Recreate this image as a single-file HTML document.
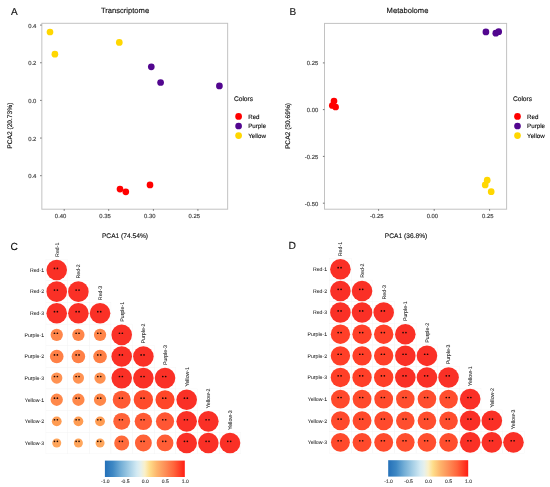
<!DOCTYPE html>
<html><head><meta charset="utf-8"><style>
html,body{margin:0;padding:0;background:#fff;width:550px;height:487px;overflow:hidden}
svg{display:block;will-change:transform;text-rendering:geometricPrecision;font-family:"Liberation Sans",sans-serif}
</style></head><body>
<svg width="550" height="487" viewBox="0 0 550 487">
<defs><linearGradient id="cbC" x1="0" x2="1" y1="0" y2="0"><stop offset="0" stop-color="#2470B8"/><stop offset="0.1" stop-color="#3E88C4"/><stop offset="0.2" stop-color="#73AED6"/><stop offset="0.3" stop-color="#A3CDE5"/><stop offset="0.4" stop-color="#D3EAF3"/><stop offset="0.45" stop-color="#E6F0EC"/><stop offset="0.5" stop-color="#FAF0C8"/><stop offset="0.56" stop-color="#FEDD8A"/><stop offset="0.65" stop-color="#FDB56C"/><stop offset="0.75" stop-color="#FD9058"/><stop offset="0.86" stop-color="#FF663C"/><stop offset="1" stop-color="#FF1E14"/></linearGradient><linearGradient id="cbD" x1="0" x2="1" y1="0" y2="0"><stop offset="0" stop-color="#2470B8"/><stop offset="0.1" stop-color="#3E88C4"/><stop offset="0.2" stop-color="#73AED6"/><stop offset="0.3" stop-color="#A3CDE5"/><stop offset="0.4" stop-color="#D3EAF3"/><stop offset="0.45" stop-color="#E6F0EC"/><stop offset="0.5" stop-color="#FAF0C8"/><stop offset="0.56" stop-color="#FEDD8A"/><stop offset="0.65" stop-color="#FDB56C"/><stop offset="0.75" stop-color="#FD9058"/><stop offset="0.86" stop-color="#FF663C"/><stop offset="1" stop-color="#FF1E14"/></linearGradient></defs>
<text x="10.90" y="14.50" font-size="10" text-anchor="start" fill="#111" stroke="#111" stroke-width="0.14" >A</text>
<text x="125.00" y="12.80" font-size="7.6" text-anchor="middle" fill="#111111" stroke="#111111" stroke-width="0.14" >Transcriptome</text>
<rect x="41.85" y="23.3" width="185.8" height="185.9" fill="none" stroke="#C2C2C2" stroke-width="1.0"/>
<line x1="40.1" y1="25.1" x2="41.6" y2="25.1" stroke="#3A3A3A" stroke-width="0.7"/>
<text x="36.40" y="27.60" font-size="5.9" text-anchor="end" fill="#3A3A3A" stroke="#3A3A3A" stroke-width="0.14" >0.4</text>
<line x1="40.1" y1="62.75" x2="41.6" y2="62.75" stroke="#3A3A3A" stroke-width="0.7"/>
<text x="36.40" y="65.25" font-size="5.9" text-anchor="end" fill="#3A3A3A" stroke="#3A3A3A" stroke-width="0.14" >0.2</text>
<line x1="40.1" y1="100.4" x2="41.6" y2="100.4" stroke="#3A3A3A" stroke-width="0.7"/>
<text x="36.40" y="102.90" font-size="5.9" text-anchor="end" fill="#3A3A3A" stroke="#3A3A3A" stroke-width="0.14" >0.0</text>
<line x1="40.1" y1="138.05" x2="41.6" y2="138.05" stroke="#3A3A3A" stroke-width="0.7"/>
<text x="36.40" y="140.55" font-size="5.9" text-anchor="end" fill="#3A3A3A" stroke="#3A3A3A" stroke-width="0.14" >0.2</text>
<line x1="40.1" y1="175.7" x2="41.6" y2="175.7" stroke="#3A3A3A" stroke-width="0.7"/>
<text x="36.40" y="178.20" font-size="5.9" text-anchor="end" fill="#3A3A3A" stroke="#3A3A3A" stroke-width="0.14" >0.4</text>
<line x1="64.2" y1="209.2" x2="64.2" y2="210.8" stroke="#3A3A3A" stroke-width="0.7"/>
<text x="60.60" y="217.80" font-size="5.9" text-anchor="middle" fill="#3A3A3A" stroke="#3A3A3A" stroke-width="0.14" >0.40</text>
<line x1="108.7" y1="209.2" x2="108.7" y2="210.8" stroke="#3A3A3A" stroke-width="0.7"/>
<text x="105.10" y="217.80" font-size="5.9" text-anchor="middle" fill="#3A3A3A" stroke="#3A3A3A" stroke-width="0.14" >0.35</text>
<line x1="153.4" y1="209.2" x2="153.4" y2="210.8" stroke="#3A3A3A" stroke-width="0.7"/>
<text x="149.80" y="217.80" font-size="5.9" text-anchor="middle" fill="#3A3A3A" stroke="#3A3A3A" stroke-width="0.14" >0.30</text>
<line x1="197.9" y1="209.2" x2="197.9" y2="210.8" stroke="#3A3A3A" stroke-width="0.7"/>
<text x="194.30" y="217.80" font-size="5.9" text-anchor="middle" fill="#3A3A3A" stroke="#3A3A3A" stroke-width="0.14" >0.25</text>
<text x="125.00" y="237.60" font-size="6.65" text-anchor="middle" fill="#111111" stroke="#111111" stroke-width="0.14" >PCA1 (74.54%)</text>
<text x="0" y="0" font-size="6.65" text-anchor="middle" fill="#111111" stroke="#111111" stroke-width="0.14" transform="translate(12.1,125.7) rotate(-90)">PCA2 (20.73%)</text>
<text x="233.90" y="100.90" font-size="6.65" text-anchor="start" fill="#111111" stroke="#111111" stroke-width="0.14" >Colors</text>
<circle cx="238.6" cy="116.4" r="3.35" fill="#FF0000"/>
<text x="248.20" y="118.60" font-size="6.2" text-anchor="start" fill="#111111" stroke="#111111" stroke-width="0.14" >Red</text>
<circle cx="238.6" cy="126.0" r="3.35" fill="#52068F"/>
<text x="248.20" y="128.20" font-size="6.2" text-anchor="start" fill="#111111" stroke="#111111" stroke-width="0.14" >Purple</text>
<circle cx="238.6" cy="135.6" r="3.35" fill="#FFD700"/>
<text x="248.20" y="137.80" font-size="6.2" text-anchor="start" fill="#111111" stroke="#111111" stroke-width="0.14" >Yellow</text>
<circle cx="50" cy="32" r="3.35" fill="#FFD700"/>
<circle cx="54.9" cy="54.2" r="3.35" fill="#FFD700"/>
<circle cx="119.3" cy="42.4" r="3.35" fill="#FFD700"/>
<circle cx="151.3" cy="66.8" r="3.35" fill="#52068F"/>
<circle cx="160.6" cy="82.5" r="3.35" fill="#52068F"/>
<circle cx="219.4" cy="85.9" r="3.35" fill="#52068F"/>
<circle cx="120" cy="189.1" r="3.35" fill="#FF0000"/>
<circle cx="125.8" cy="191.8" r="3.35" fill="#FF0000"/>
<circle cx="150" cy="184.9" r="3.35" fill="#FF0000"/>
<text x="289.50" y="14.50" font-size="10" text-anchor="start" fill="#111" stroke="#111" stroke-width="0.14" >B</text>
<text x="407.50" y="12.80" font-size="7.6" text-anchor="middle" fill="#111111" stroke="#111111" stroke-width="0.14" >Metabolome</text>
<rect x="324.5" y="23.4" width="182.1" height="185.8" fill="none" stroke="#C2C2C2" stroke-width="1.0"/>
<line x1="322.9" y1="62.9" x2="324.4" y2="62.9" stroke="#3A3A3A" stroke-width="0.7"/>
<text x="318.30" y="65.40" font-size="5.9" text-anchor="end" fill="#3A3A3A" stroke="#3A3A3A" stroke-width="0.14" >0.25</text>
<line x1="322.9" y1="109.6" x2="324.4" y2="109.6" stroke="#3A3A3A" stroke-width="0.7"/>
<text x="318.30" y="112.10" font-size="5.9" text-anchor="end" fill="#3A3A3A" stroke="#3A3A3A" stroke-width="0.14" >0.00</text>
<line x1="322.9" y1="156.4" x2="324.4" y2="156.4" stroke="#3A3A3A" stroke-width="0.7"/>
<text x="318.30" y="158.90" font-size="5.9" text-anchor="end" fill="#3A3A3A" stroke="#3A3A3A" stroke-width="0.14" >-0.25</text>
<line x1="322.9" y1="203.2" x2="324.4" y2="203.2" stroke="#3A3A3A" stroke-width="0.7"/>
<text x="318.30" y="205.70" font-size="5.9" text-anchor="end" fill="#3A3A3A" stroke="#3A3A3A" stroke-width="0.14" >-0.50</text>
<line x1="378.6" y1="209.2" x2="378.6" y2="210.8" stroke="#3A3A3A" stroke-width="0.7"/>
<text x="376.80" y="217.80" font-size="5.9" text-anchor="middle" fill="#3A3A3A" stroke="#3A3A3A" stroke-width="0.14" >-0.25</text>
<line x1="434.2" y1="209.2" x2="434.2" y2="210.8" stroke="#3A3A3A" stroke-width="0.7"/>
<text x="432.40" y="217.80" font-size="5.9" text-anchor="middle" fill="#3A3A3A" stroke="#3A3A3A" stroke-width="0.14" >0.00</text>
<line x1="489.6" y1="209.2" x2="489.6" y2="210.8" stroke="#3A3A3A" stroke-width="0.7"/>
<text x="487.80" y="217.80" font-size="5.9" text-anchor="middle" fill="#3A3A3A" stroke="#3A3A3A" stroke-width="0.14" >0.25</text>
<text x="406.10" y="237.60" font-size="6.65" text-anchor="middle" fill="#111111" stroke="#111111" stroke-width="0.14" >PCA1 (36.8%)</text>
<text x="0" y="0" font-size="6.65" text-anchor="middle" fill="#111111" stroke="#111111" stroke-width="0.14" transform="translate(289.6,126) rotate(-90)">PCA2 (30.69%)</text>
<text x="512.90" y="100.90" font-size="6.65" text-anchor="start" fill="#111111" stroke="#111111" stroke-width="0.14" >Colors</text>
<circle cx="517.5" cy="116.4" r="3.35" fill="#FF0000"/>
<text x="527.10" y="118.60" font-size="6.2" text-anchor="start" fill="#111111" stroke="#111111" stroke-width="0.14" >Red</text>
<circle cx="517.5" cy="126.0" r="3.35" fill="#52068F"/>
<text x="527.10" y="128.20" font-size="6.2" text-anchor="start" fill="#111111" stroke="#111111" stroke-width="0.14" >Purple</text>
<circle cx="517.5" cy="135.6" r="3.35" fill="#FFD700"/>
<text x="527.10" y="137.80" font-size="6.2" text-anchor="start" fill="#111111" stroke="#111111" stroke-width="0.14" >Yellow</text>
<circle cx="334" cy="101" r="3.35" fill="#FF0000"/>
<circle cx="332.3" cy="105.5" r="3.35" fill="#FF0000"/>
<circle cx="335.6" cy="107" r="3.35" fill="#FF0000"/>
<circle cx="485.9" cy="31.9" r="3.35" fill="#52068F"/>
<circle cx="495.8" cy="33.2" r="3.35" fill="#52068F"/>
<circle cx="498.7" cy="31.7" r="3.35" fill="#52068F"/>
<circle cx="487.2" cy="180.2" r="3.35" fill="#FFD700"/>
<circle cx="485.2" cy="184.9" r="3.35" fill="#FFD700"/>
<circle cx="491.2" cy="191.7" r="3.35" fill="#FFD700"/>
<text x="10.60" y="250.40" font-size="10.3" text-anchor="start" fill="#111" stroke="#111" stroke-width="0.14" >C</text>
<rect x="45.90" y="259.20" width="21.66" height="21.62" fill="none" stroke="#F5F5F5" stroke-width="0.45"/>
<rect x="45.90" y="280.82" width="21.66" height="21.62" fill="none" stroke="#F5F5F5" stroke-width="0.45"/>
<rect x="67.56" y="280.82" width="21.66" height="21.62" fill="none" stroke="#F5F5F5" stroke-width="0.45"/>
<rect x="45.90" y="302.44" width="21.66" height="21.62" fill="none" stroke="#F5F5F5" stroke-width="0.45"/>
<rect x="67.56" y="302.44" width="21.66" height="21.62" fill="none" stroke="#F5F5F5" stroke-width="0.45"/>
<rect x="89.22" y="302.44" width="21.66" height="21.62" fill="none" stroke="#F5F5F5" stroke-width="0.45"/>
<rect x="45.90" y="324.06" width="21.66" height="21.62" fill="none" stroke="#F5F5F5" stroke-width="0.45"/>
<rect x="67.56" y="324.06" width="21.66" height="21.62" fill="none" stroke="#F5F5F5" stroke-width="0.45"/>
<rect x="89.22" y="324.06" width="21.66" height="21.62" fill="none" stroke="#F5F5F5" stroke-width="0.45"/>
<rect x="110.88" y="324.06" width="21.66" height="21.62" fill="none" stroke="#F5F5F5" stroke-width="0.45"/>
<rect x="45.90" y="345.68" width="21.66" height="21.62" fill="none" stroke="#F5F5F5" stroke-width="0.45"/>
<rect x="67.56" y="345.68" width="21.66" height="21.62" fill="none" stroke="#F5F5F5" stroke-width="0.45"/>
<rect x="89.22" y="345.68" width="21.66" height="21.62" fill="none" stroke="#F5F5F5" stroke-width="0.45"/>
<rect x="110.88" y="345.68" width="21.66" height="21.62" fill="none" stroke="#F5F5F5" stroke-width="0.45"/>
<rect x="132.54" y="345.68" width="21.66" height="21.62" fill="none" stroke="#F5F5F5" stroke-width="0.45"/>
<rect x="45.90" y="367.30" width="21.66" height="21.62" fill="none" stroke="#F5F5F5" stroke-width="0.45"/>
<rect x="67.56" y="367.30" width="21.66" height="21.62" fill="none" stroke="#F5F5F5" stroke-width="0.45"/>
<rect x="89.22" y="367.30" width="21.66" height="21.62" fill="none" stroke="#F5F5F5" stroke-width="0.45"/>
<rect x="110.88" y="367.30" width="21.66" height="21.62" fill="none" stroke="#F5F5F5" stroke-width="0.45"/>
<rect x="132.54" y="367.30" width="21.66" height="21.62" fill="none" stroke="#F5F5F5" stroke-width="0.45"/>
<rect x="154.20" y="367.30" width="21.66" height="21.62" fill="none" stroke="#F5F5F5" stroke-width="0.45"/>
<rect x="45.90" y="388.92" width="21.66" height="21.62" fill="none" stroke="#F5F5F5" stroke-width="0.45"/>
<rect x="67.56" y="388.92" width="21.66" height="21.62" fill="none" stroke="#F5F5F5" stroke-width="0.45"/>
<rect x="89.22" y="388.92" width="21.66" height="21.62" fill="none" stroke="#F5F5F5" stroke-width="0.45"/>
<rect x="110.88" y="388.92" width="21.66" height="21.62" fill="none" stroke="#F5F5F5" stroke-width="0.45"/>
<rect x="132.54" y="388.92" width="21.66" height="21.62" fill="none" stroke="#F5F5F5" stroke-width="0.45"/>
<rect x="154.20" y="388.92" width="21.66" height="21.62" fill="none" stroke="#F5F5F5" stroke-width="0.45"/>
<rect x="175.86" y="388.92" width="21.66" height="21.62" fill="none" stroke="#F5F5F5" stroke-width="0.45"/>
<rect x="45.90" y="410.54" width="21.66" height="21.62" fill="none" stroke="#F5F5F5" stroke-width="0.45"/>
<rect x="67.56" y="410.54" width="21.66" height="21.62" fill="none" stroke="#F5F5F5" stroke-width="0.45"/>
<rect x="89.22" y="410.54" width="21.66" height="21.62" fill="none" stroke="#F5F5F5" stroke-width="0.45"/>
<rect x="110.88" y="410.54" width="21.66" height="21.62" fill="none" stroke="#F5F5F5" stroke-width="0.45"/>
<rect x="132.54" y="410.54" width="21.66" height="21.62" fill="none" stroke="#F5F5F5" stroke-width="0.45"/>
<rect x="154.20" y="410.54" width="21.66" height="21.62" fill="none" stroke="#F5F5F5" stroke-width="0.45"/>
<rect x="175.86" y="410.54" width="21.66" height="21.62" fill="none" stroke="#F5F5F5" stroke-width="0.45"/>
<rect x="197.52" y="410.54" width="21.66" height="21.62" fill="none" stroke="#F5F5F5" stroke-width="0.45"/>
<rect x="45.90" y="432.16" width="21.66" height="21.62" fill="none" stroke="#F5F5F5" stroke-width="0.45"/>
<rect x="67.56" y="432.16" width="21.66" height="21.62" fill="none" stroke="#F5F5F5" stroke-width="0.45"/>
<rect x="89.22" y="432.16" width="21.66" height="21.62" fill="none" stroke="#F5F5F5" stroke-width="0.45"/>
<rect x="110.88" y="432.16" width="21.66" height="21.62" fill="none" stroke="#F5F5F5" stroke-width="0.45"/>
<rect x="132.54" y="432.16" width="21.66" height="21.62" fill="none" stroke="#F5F5F5" stroke-width="0.45"/>
<rect x="154.20" y="432.16" width="21.66" height="21.62" fill="none" stroke="#F5F5F5" stroke-width="0.45"/>
<rect x="175.86" y="432.16" width="21.66" height="21.62" fill="none" stroke="#F5F5F5" stroke-width="0.45"/>
<rect x="197.52" y="432.16" width="21.66" height="21.62" fill="none" stroke="#F5F5F5" stroke-width="0.45"/>
<rect x="219.18" y="432.16" width="21.66" height="21.62" fill="none" stroke="#F5F5F5" stroke-width="0.45"/>
<circle cx="56.73" cy="270.01" r="10.299999999999999" fill="#FA3026"/>
<circle cx="54.48" cy="268.41" r="0.85" fill="#1E0805"/><circle cx="57.38" cy="268.41" r="0.85" fill="#1E0805"/>
<circle cx="56.73" cy="291.63" r="10.299999999999999" fill="#FA3026"/>
<circle cx="54.48" cy="290.03" r="0.85" fill="#1E0805"/><circle cx="57.38" cy="290.03" r="0.85" fill="#1E0805"/>
<circle cx="78.39" cy="291.63" r="10.299999999999999" fill="#FA3026"/>
<circle cx="76.14" cy="290.03" r="0.85" fill="#1E0805"/><circle cx="79.04" cy="290.03" r="0.85" fill="#1E0805"/>
<circle cx="56.73" cy="313.25" r="10.299999999999999" fill="#FA3026"/>
<circle cx="54.48" cy="311.65" r="0.85" fill="#1E0805"/><circle cx="57.38" cy="311.65" r="0.85" fill="#1E0805"/>
<circle cx="78.39" cy="313.25" r="10.299999999999999" fill="#FA3026"/>
<circle cx="76.14" cy="311.65" r="0.85" fill="#1E0805"/><circle cx="79.04" cy="311.65" r="0.85" fill="#1E0805"/>
<circle cx="100.05" cy="313.25" r="10.299999999999999" fill="#FA3026"/>
<circle cx="97.80" cy="311.65" r="0.85" fill="#1E0805"/><circle cx="100.70" cy="311.65" r="0.85" fill="#1E0805"/>
<circle cx="56.73" cy="334.87" r="6.15" fill="#FF864A"/>
<circle cx="54.48" cy="333.27" r="0.85" fill="#1E0805"/><circle cx="57.38" cy="333.27" r="0.85" fill="#1E0805"/>
<circle cx="78.39" cy="334.87" r="6.15" fill="#FF864A"/>
<circle cx="76.14" cy="333.27" r="0.85" fill="#1E0805"/><circle cx="79.04" cy="333.27" r="0.85" fill="#1E0805"/>
<circle cx="100.05" cy="334.87" r="6.15" fill="#FF864A"/>
<circle cx="97.80" cy="333.27" r="0.85" fill="#1E0805"/><circle cx="100.70" cy="333.27" r="0.85" fill="#1E0805"/>
<circle cx="121.71" cy="334.87" r="10.299999999999999" fill="#FA3026"/>
<circle cx="119.46" cy="333.27" r="0.85" fill="#1E0805"/><circle cx="122.36" cy="333.27" r="0.85" fill="#1E0805"/>
<circle cx="56.73" cy="356.49" r="6.8" fill="#FF8046"/>
<circle cx="54.48" cy="354.89" r="0.85" fill="#1E0805"/><circle cx="57.38" cy="354.89" r="0.85" fill="#1E0805"/>
<circle cx="78.39" cy="356.49" r="6.8" fill="#FF8046"/>
<circle cx="76.14" cy="354.89" r="0.85" fill="#1E0805"/><circle cx="79.04" cy="354.89" r="0.85" fill="#1E0805"/>
<circle cx="100.05" cy="356.49" r="6.8" fill="#FF8046"/>
<circle cx="97.80" cy="354.89" r="0.85" fill="#1E0805"/><circle cx="100.70" cy="354.89" r="0.85" fill="#1E0805"/>
<circle cx="121.71" cy="356.49" r="10.299999999999999" fill="#FA3026"/>
<circle cx="119.46" cy="354.89" r="0.85" fill="#1E0805"/><circle cx="122.36" cy="354.89" r="0.85" fill="#1E0805"/>
<circle cx="143.37" cy="356.49" r="10.299999999999999" fill="#FA3026"/>
<circle cx="141.12" cy="354.89" r="0.85" fill="#1E0805"/><circle cx="144.02" cy="354.89" r="0.85" fill="#1E0805"/>
<circle cx="56.73" cy="378.11" r="5.65" fill="#FF9252"/>
<circle cx="54.48" cy="376.51" r="0.85" fill="#1E0805"/><circle cx="57.38" cy="376.51" r="0.85" fill="#1E0805"/>
<circle cx="78.39" cy="378.11" r="5.65" fill="#FF9252"/>
<circle cx="76.14" cy="376.51" r="0.85" fill="#1E0805"/><circle cx="79.04" cy="376.51" r="0.85" fill="#1E0805"/>
<circle cx="100.05" cy="378.11" r="5.65" fill="#FF9252"/>
<circle cx="97.80" cy="376.51" r="0.85" fill="#1E0805"/><circle cx="100.70" cy="376.51" r="0.85" fill="#1E0805"/>
<circle cx="121.71" cy="378.11" r="10.299999999999999" fill="#FA3026"/>
<circle cx="119.46" cy="376.51" r="0.85" fill="#1E0805"/><circle cx="122.36" cy="376.51" r="0.85" fill="#1E0805"/>
<circle cx="143.37" cy="378.11" r="10.299999999999999" fill="#FA3026"/>
<circle cx="141.12" cy="376.51" r="0.85" fill="#1E0805"/><circle cx="144.02" cy="376.51" r="0.85" fill="#1E0805"/>
<circle cx="165.03" cy="378.11" r="10.299999999999999" fill="#FA3026"/>
<circle cx="162.78" cy="376.51" r="0.85" fill="#1E0805"/><circle cx="165.68" cy="376.51" r="0.85" fill="#1E0805"/>
<circle cx="56.73" cy="399.73" r="6.15" fill="#FF884A"/>
<circle cx="54.48" cy="398.13" r="0.85" fill="#1E0805"/><circle cx="57.38" cy="398.13" r="0.85" fill="#1E0805"/>
<circle cx="78.39" cy="399.73" r="6.15" fill="#FF884A"/>
<circle cx="76.14" cy="398.13" r="0.85" fill="#1E0805"/><circle cx="79.04" cy="398.13" r="0.85" fill="#1E0805"/>
<circle cx="100.05" cy="399.73" r="6.15" fill="#FF884A"/>
<circle cx="97.80" cy="398.13" r="0.85" fill="#1E0805"/><circle cx="100.70" cy="398.13" r="0.85" fill="#1E0805"/>
<circle cx="121.71" cy="399.73" r="9.0" fill="#FF5A34"/>
<circle cx="119.46" cy="398.13" r="0.85" fill="#1E0805"/><circle cx="122.36" cy="398.13" r="0.85" fill="#1E0805"/>
<circle cx="143.37" cy="399.73" r="9.7" fill="#FF4C2C"/>
<circle cx="141.12" cy="398.13" r="0.85" fill="#1E0805"/><circle cx="144.02" cy="398.13" r="0.85" fill="#1E0805"/>
<circle cx="165.03" cy="399.73" r="9.549999999999999" fill="#FF4628"/>
<circle cx="162.78" cy="398.13" r="0.85" fill="#1E0805"/><circle cx="165.68" cy="398.13" r="0.85" fill="#1E0805"/>
<circle cx="186.69" cy="399.73" r="10.299999999999999" fill="#FA3026"/>
<circle cx="184.44" cy="398.13" r="0.85" fill="#1E0805"/><circle cx="187.34" cy="398.13" r="0.85" fill="#1E0805"/>
<circle cx="56.73" cy="421.35" r="4.9" fill="#FF9C52"/>
<circle cx="54.48" cy="419.75" r="0.85" fill="#1E0805"/><circle cx="57.38" cy="419.75" r="0.85" fill="#1E0805"/>
<circle cx="78.39" cy="421.35" r="4.9" fill="#FF9C52"/>
<circle cx="76.14" cy="419.75" r="0.85" fill="#1E0805"/><circle cx="79.04" cy="419.75" r="0.85" fill="#1E0805"/>
<circle cx="100.05" cy="421.35" r="4.9" fill="#FF9C52"/>
<circle cx="97.80" cy="419.75" r="0.85" fill="#1E0805"/><circle cx="100.70" cy="419.75" r="0.85" fill="#1E0805"/>
<circle cx="121.71" cy="421.35" r="8.45" fill="#FF6238"/>
<circle cx="119.46" cy="419.75" r="0.85" fill="#1E0805"/><circle cx="122.36" cy="419.75" r="0.85" fill="#1E0805"/>
<circle cx="143.37" cy="421.35" r="8.7" fill="#FF5A34"/>
<circle cx="141.12" cy="419.75" r="0.85" fill="#1E0805"/><circle cx="144.02" cy="419.75" r="0.85" fill="#1E0805"/>
<circle cx="165.03" cy="421.35" r="9.1" fill="#FF5634"/>
<circle cx="162.78" cy="419.75" r="0.85" fill="#1E0805"/><circle cx="165.68" cy="419.75" r="0.85" fill="#1E0805"/>
<circle cx="186.69" cy="421.35" r="10.299999999999999" fill="#FA3026"/>
<circle cx="184.44" cy="419.75" r="0.85" fill="#1E0805"/><circle cx="187.34" cy="419.75" r="0.85" fill="#1E0805"/>
<circle cx="208.35" cy="421.35" r="10.299999999999999" fill="#FA3026"/>
<circle cx="206.10" cy="419.75" r="0.85" fill="#1E0805"/><circle cx="209.00" cy="419.75" r="0.85" fill="#1E0805"/>
<circle cx="56.73" cy="442.97" r="4.5" fill="#FFA65C"/>
<circle cx="54.48" cy="441.37" r="0.85" fill="#1E0805"/><circle cx="57.38" cy="441.37" r="0.85" fill="#1E0805"/>
<circle cx="78.39" cy="442.97" r="4.5" fill="#FFA65C"/>
<circle cx="76.14" cy="441.37" r="0.85" fill="#1E0805"/><circle cx="79.04" cy="441.37" r="0.85" fill="#1E0805"/>
<circle cx="100.05" cy="442.97" r="4.5" fill="#FFA65C"/>
<circle cx="97.80" cy="441.37" r="0.85" fill="#1E0805"/><circle cx="100.70" cy="441.37" r="0.85" fill="#1E0805"/>
<circle cx="121.71" cy="442.97" r="7.5" fill="#FF6A3A"/>
<circle cx="119.46" cy="441.37" r="0.85" fill="#1E0805"/><circle cx="122.36" cy="441.37" r="0.85" fill="#1E0805"/>
<circle cx="143.37" cy="442.97" r="8.45" fill="#FF6238"/>
<circle cx="141.12" cy="441.37" r="0.85" fill="#1E0805"/><circle cx="144.02" cy="441.37" r="0.85" fill="#1E0805"/>
<circle cx="165.03" cy="442.97" r="8.399999999999999" fill="#FF5E36"/>
<circle cx="162.78" cy="441.37" r="0.85" fill="#1E0805"/><circle cx="165.68" cy="441.37" r="0.85" fill="#1E0805"/>
<circle cx="186.69" cy="442.97" r="10.299999999999999" fill="#FA3026"/>
<circle cx="184.44" cy="441.37" r="0.85" fill="#1E0805"/><circle cx="187.34" cy="441.37" r="0.85" fill="#1E0805"/>
<circle cx="208.35" cy="442.97" r="10.299999999999999" fill="#FA3026"/>
<circle cx="206.10" cy="441.37" r="0.85" fill="#1E0805"/><circle cx="209.00" cy="441.37" r="0.85" fill="#1E0805"/>
<circle cx="230.01" cy="442.97" r="10.299999999999999" fill="#FA3026"/>
<circle cx="227.76" cy="441.37" r="0.85" fill="#1E0805"/><circle cx="230.66" cy="441.37" r="0.85" fill="#1E0805"/>
<text x="44.00" y="271.81" font-size="5.15" text-anchor="end" fill="#1A1A1A" stroke="#1A1A1A" stroke-width="0.05">Red-1</text>
<text x="0" y="0" font-size="5.25" text-anchor="start" fill="#1A1A1A" stroke="#1A1A1A" stroke-width="0.05" transform="translate(58.63,256.90) rotate(-90)">Red-1</text>
<text x="44.00" y="293.43" font-size="5.15" text-anchor="end" fill="#1A1A1A" stroke="#1A1A1A" stroke-width="0.05">Red-2</text>
<text x="0" y="0" font-size="5.25" text-anchor="start" fill="#1A1A1A" stroke="#1A1A1A" stroke-width="0.05" transform="translate(80.29,278.52) rotate(-90)">Red-2</text>
<text x="44.00" y="315.05" font-size="5.15" text-anchor="end" fill="#1A1A1A" stroke="#1A1A1A" stroke-width="0.05">Red-3</text>
<text x="0" y="0" font-size="5.25" text-anchor="start" fill="#1A1A1A" stroke="#1A1A1A" stroke-width="0.05" transform="translate(101.95,300.14) rotate(-90)">Red-3</text>
<text x="44.00" y="336.67" font-size="5.15" text-anchor="end" fill="#1A1A1A" stroke="#1A1A1A" stroke-width="0.05">Purple-1</text>
<text x="0" y="0" font-size="5.25" text-anchor="start" fill="#1A1A1A" stroke="#1A1A1A" stroke-width="0.05" transform="translate(123.61,321.76) rotate(-90)">Purple-1</text>
<text x="44.00" y="358.29" font-size="5.15" text-anchor="end" fill="#1A1A1A" stroke="#1A1A1A" stroke-width="0.05">Purple-2</text>
<text x="0" y="0" font-size="5.25" text-anchor="start" fill="#1A1A1A" stroke="#1A1A1A" stroke-width="0.05" transform="translate(145.27,343.38) rotate(-90)">Purple-2</text>
<text x="44.00" y="379.91" font-size="5.15" text-anchor="end" fill="#1A1A1A" stroke="#1A1A1A" stroke-width="0.05">Purple-3</text>
<text x="0" y="0" font-size="5.25" text-anchor="start" fill="#1A1A1A" stroke="#1A1A1A" stroke-width="0.05" transform="translate(166.93,365.00) rotate(-90)">Purple-3</text>
<text x="44.00" y="401.53" font-size="5.15" text-anchor="end" fill="#1A1A1A" stroke="#1A1A1A" stroke-width="0.05">Yellow-1</text>
<text x="0" y="0" font-size="5.25" text-anchor="start" fill="#1A1A1A" stroke="#1A1A1A" stroke-width="0.05" transform="translate(188.59,386.62) rotate(-90)">Yellow-1</text>
<text x="44.00" y="423.15" font-size="5.15" text-anchor="end" fill="#1A1A1A" stroke="#1A1A1A" stroke-width="0.05">Yellow-2</text>
<text x="0" y="0" font-size="5.25" text-anchor="start" fill="#1A1A1A" stroke="#1A1A1A" stroke-width="0.05" transform="translate(210.25,408.24) rotate(-90)">Yellow-2</text>
<text x="44.00" y="444.77" font-size="5.15" text-anchor="end" fill="#1A1A1A" stroke="#1A1A1A" stroke-width="0.05">Yellow-3</text>
<text x="0" y="0" font-size="5.25" text-anchor="start" fill="#1A1A1A" stroke="#1A1A1A" stroke-width="0.05" transform="translate(231.91,429.86) rotate(-90)">Yellow-3</text>
<text x="288.60" y="249.30" font-size="10.3" text-anchor="start" fill="#111" stroke="#111" stroke-width="0.14" >D</text>
<rect x="329.60" y="258.50" width="21.63" height="21.63" fill="none" stroke="#F5F5F5" stroke-width="0.45"/>
<rect x="329.60" y="280.13" width="21.63" height="21.63" fill="none" stroke="#F5F5F5" stroke-width="0.45"/>
<rect x="351.23" y="280.13" width="21.63" height="21.63" fill="none" stroke="#F5F5F5" stroke-width="0.45"/>
<rect x="329.60" y="301.76" width="21.63" height="21.63" fill="none" stroke="#F5F5F5" stroke-width="0.45"/>
<rect x="351.23" y="301.76" width="21.63" height="21.63" fill="none" stroke="#F5F5F5" stroke-width="0.45"/>
<rect x="372.86" y="301.76" width="21.63" height="21.63" fill="none" stroke="#F5F5F5" stroke-width="0.45"/>
<rect x="329.60" y="323.39" width="21.63" height="21.63" fill="none" stroke="#F5F5F5" stroke-width="0.45"/>
<rect x="351.23" y="323.39" width="21.63" height="21.63" fill="none" stroke="#F5F5F5" stroke-width="0.45"/>
<rect x="372.86" y="323.39" width="21.63" height="21.63" fill="none" stroke="#F5F5F5" stroke-width="0.45"/>
<rect x="394.49" y="323.39" width="21.63" height="21.63" fill="none" stroke="#F5F5F5" stroke-width="0.45"/>
<rect x="329.60" y="345.02" width="21.63" height="21.63" fill="none" stroke="#F5F5F5" stroke-width="0.45"/>
<rect x="351.23" y="345.02" width="21.63" height="21.63" fill="none" stroke="#F5F5F5" stroke-width="0.45"/>
<rect x="372.86" y="345.02" width="21.63" height="21.63" fill="none" stroke="#F5F5F5" stroke-width="0.45"/>
<rect x="394.49" y="345.02" width="21.63" height="21.63" fill="none" stroke="#F5F5F5" stroke-width="0.45"/>
<rect x="416.12" y="345.02" width="21.63" height="21.63" fill="none" stroke="#F5F5F5" stroke-width="0.45"/>
<rect x="329.60" y="366.65" width="21.63" height="21.63" fill="none" stroke="#F5F5F5" stroke-width="0.45"/>
<rect x="351.23" y="366.65" width="21.63" height="21.63" fill="none" stroke="#F5F5F5" stroke-width="0.45"/>
<rect x="372.86" y="366.65" width="21.63" height="21.63" fill="none" stroke="#F5F5F5" stroke-width="0.45"/>
<rect x="394.49" y="366.65" width="21.63" height="21.63" fill="none" stroke="#F5F5F5" stroke-width="0.45"/>
<rect x="416.12" y="366.65" width="21.63" height="21.63" fill="none" stroke="#F5F5F5" stroke-width="0.45"/>
<rect x="437.75" y="366.65" width="21.63" height="21.63" fill="none" stroke="#F5F5F5" stroke-width="0.45"/>
<rect x="329.60" y="388.28" width="21.63" height="21.63" fill="none" stroke="#F5F5F5" stroke-width="0.45"/>
<rect x="351.23" y="388.28" width="21.63" height="21.63" fill="none" stroke="#F5F5F5" stroke-width="0.45"/>
<rect x="372.86" y="388.28" width="21.63" height="21.63" fill="none" stroke="#F5F5F5" stroke-width="0.45"/>
<rect x="394.49" y="388.28" width="21.63" height="21.63" fill="none" stroke="#F5F5F5" stroke-width="0.45"/>
<rect x="416.12" y="388.28" width="21.63" height="21.63" fill="none" stroke="#F5F5F5" stroke-width="0.45"/>
<rect x="437.75" y="388.28" width="21.63" height="21.63" fill="none" stroke="#F5F5F5" stroke-width="0.45"/>
<rect x="459.38" y="388.28" width="21.63" height="21.63" fill="none" stroke="#F5F5F5" stroke-width="0.45"/>
<rect x="329.60" y="409.91" width="21.63" height="21.63" fill="none" stroke="#F5F5F5" stroke-width="0.45"/>
<rect x="351.23" y="409.91" width="21.63" height="21.63" fill="none" stroke="#F5F5F5" stroke-width="0.45"/>
<rect x="372.86" y="409.91" width="21.63" height="21.63" fill="none" stroke="#F5F5F5" stroke-width="0.45"/>
<rect x="394.49" y="409.91" width="21.63" height="21.63" fill="none" stroke="#F5F5F5" stroke-width="0.45"/>
<rect x="416.12" y="409.91" width="21.63" height="21.63" fill="none" stroke="#F5F5F5" stroke-width="0.45"/>
<rect x="437.75" y="409.91" width="21.63" height="21.63" fill="none" stroke="#F5F5F5" stroke-width="0.45"/>
<rect x="459.38" y="409.91" width="21.63" height="21.63" fill="none" stroke="#F5F5F5" stroke-width="0.45"/>
<rect x="481.01" y="409.91" width="21.63" height="21.63" fill="none" stroke="#F5F5F5" stroke-width="0.45"/>
<rect x="329.60" y="431.54" width="21.63" height="21.63" fill="none" stroke="#F5F5F5" stroke-width="0.45"/>
<rect x="351.23" y="431.54" width="21.63" height="21.63" fill="none" stroke="#F5F5F5" stroke-width="0.45"/>
<rect x="372.86" y="431.54" width="21.63" height="21.63" fill="none" stroke="#F5F5F5" stroke-width="0.45"/>
<rect x="394.49" y="431.54" width="21.63" height="21.63" fill="none" stroke="#F5F5F5" stroke-width="0.45"/>
<rect x="416.12" y="431.54" width="21.63" height="21.63" fill="none" stroke="#F5F5F5" stroke-width="0.45"/>
<rect x="437.75" y="431.54" width="21.63" height="21.63" fill="none" stroke="#F5F5F5" stroke-width="0.45"/>
<rect x="459.38" y="431.54" width="21.63" height="21.63" fill="none" stroke="#F5F5F5" stroke-width="0.45"/>
<rect x="481.01" y="431.54" width="21.63" height="21.63" fill="none" stroke="#F5F5F5" stroke-width="0.45"/>
<rect x="502.64" y="431.54" width="21.63" height="21.63" fill="none" stroke="#F5F5F5" stroke-width="0.45"/>
<circle cx="340.42" cy="269.31" r="10.299999999999999" fill="#FA3026"/>
<circle cx="338.17" cy="267.71" r="0.85" fill="#1E0805"/><circle cx="341.06" cy="267.71" r="0.85" fill="#1E0805"/>
<circle cx="340.42" cy="290.94" r="10.299999999999999" fill="#FA3026"/>
<circle cx="338.17" cy="289.34" r="0.85" fill="#1E0805"/><circle cx="341.06" cy="289.34" r="0.85" fill="#1E0805"/>
<circle cx="362.05" cy="290.94" r="10.299999999999999" fill="#FA3026"/>
<circle cx="359.80" cy="289.34" r="0.85" fill="#1E0805"/><circle cx="362.69" cy="289.34" r="0.85" fill="#1E0805"/>
<circle cx="340.42" cy="312.57" r="10.299999999999999" fill="#FA3026"/>
<circle cx="338.17" cy="310.97" r="0.85" fill="#1E0805"/><circle cx="341.06" cy="310.97" r="0.85" fill="#1E0805"/>
<circle cx="362.05" cy="312.57" r="10.299999999999999" fill="#FA3026"/>
<circle cx="359.80" cy="310.97" r="0.85" fill="#1E0805"/><circle cx="362.69" cy="310.97" r="0.85" fill="#1E0805"/>
<circle cx="383.68" cy="312.57" r="10.299999999999999" fill="#FA3026"/>
<circle cx="381.43" cy="310.97" r="0.85" fill="#1E0805"/><circle cx="384.32" cy="310.97" r="0.85" fill="#1E0805"/>
<circle cx="340.42" cy="334.20" r="9.7" fill="#FF3F28"/>
<circle cx="338.17" cy="332.60" r="0.85" fill="#1E0805"/><circle cx="341.06" cy="332.60" r="0.85" fill="#1E0805"/>
<circle cx="362.05" cy="334.20" r="9.7" fill="#FF3F28"/>
<circle cx="359.80" cy="332.60" r="0.85" fill="#1E0805"/><circle cx="362.69" cy="332.60" r="0.85" fill="#1E0805"/>
<circle cx="383.68" cy="334.20" r="9.7" fill="#FF3F28"/>
<circle cx="381.43" cy="332.60" r="0.85" fill="#1E0805"/><circle cx="384.32" cy="332.60" r="0.85" fill="#1E0805"/>
<circle cx="405.31" cy="334.20" r="10.299999999999999" fill="#FA3026"/>
<circle cx="403.06" cy="332.60" r="0.85" fill="#1E0805"/><circle cx="405.95" cy="332.60" r="0.85" fill="#1E0805"/>
<circle cx="340.42" cy="355.83" r="9.7" fill="#FF3F28"/>
<circle cx="338.17" cy="354.23" r="0.85" fill="#1E0805"/><circle cx="341.06" cy="354.23" r="0.85" fill="#1E0805"/>
<circle cx="362.05" cy="355.83" r="9.7" fill="#FF3F28"/>
<circle cx="359.80" cy="354.23" r="0.85" fill="#1E0805"/><circle cx="362.69" cy="354.23" r="0.85" fill="#1E0805"/>
<circle cx="383.68" cy="355.83" r="9.7" fill="#FF3F28"/>
<circle cx="381.43" cy="354.23" r="0.85" fill="#1E0805"/><circle cx="384.32" cy="354.23" r="0.85" fill="#1E0805"/>
<circle cx="405.31" cy="355.83" r="10.299999999999999" fill="#FA3026"/>
<circle cx="403.06" cy="354.23" r="0.85" fill="#1E0805"/><circle cx="405.95" cy="354.23" r="0.85" fill="#1E0805"/>
<circle cx="426.94" cy="355.83" r="10.299999999999999" fill="#FA3026"/>
<circle cx="424.69" cy="354.23" r="0.85" fill="#1E0805"/><circle cx="427.58" cy="354.23" r="0.85" fill="#1E0805"/>
<circle cx="340.42" cy="377.46" r="9.7" fill="#FF3F28"/>
<circle cx="338.17" cy="375.86" r="0.85" fill="#1E0805"/><circle cx="341.06" cy="375.86" r="0.85" fill="#1E0805"/>
<circle cx="362.05" cy="377.46" r="9.7" fill="#FF3F28"/>
<circle cx="359.80" cy="375.86" r="0.85" fill="#1E0805"/><circle cx="362.69" cy="375.86" r="0.85" fill="#1E0805"/>
<circle cx="383.68" cy="377.46" r="9.7" fill="#FF3F28"/>
<circle cx="381.43" cy="375.86" r="0.85" fill="#1E0805"/><circle cx="384.32" cy="375.86" r="0.85" fill="#1E0805"/>
<circle cx="405.31" cy="377.46" r="10.299999999999999" fill="#FA3026"/>
<circle cx="403.06" cy="375.86" r="0.85" fill="#1E0805"/><circle cx="405.95" cy="375.86" r="0.85" fill="#1E0805"/>
<circle cx="426.94" cy="377.46" r="10.299999999999999" fill="#FA3026"/>
<circle cx="424.69" cy="375.86" r="0.85" fill="#1E0805"/><circle cx="427.58" cy="375.86" r="0.85" fill="#1E0805"/>
<circle cx="448.56" cy="377.46" r="10.299999999999999" fill="#FA3026"/>
<circle cx="446.31" cy="375.86" r="0.85" fill="#1E0805"/><circle cx="449.21" cy="375.86" r="0.85" fill="#1E0805"/>
<circle cx="340.42" cy="399.10" r="9.45" fill="#FF4A2C"/>
<circle cx="338.17" cy="397.50" r="0.85" fill="#1E0805"/><circle cx="341.06" cy="397.50" r="0.85" fill="#1E0805"/>
<circle cx="362.05" cy="399.10" r="9.45" fill="#FF4A2C"/>
<circle cx="359.80" cy="397.50" r="0.85" fill="#1E0805"/><circle cx="362.69" cy="397.50" r="0.85" fill="#1E0805"/>
<circle cx="383.68" cy="399.10" r="9.45" fill="#FF4A2C"/>
<circle cx="381.43" cy="397.50" r="0.85" fill="#1E0805"/><circle cx="384.32" cy="397.50" r="0.85" fill="#1E0805"/>
<circle cx="405.31" cy="399.10" r="9.299999999999999" fill="#FF4E2E"/>
<circle cx="403.06" cy="397.50" r="0.85" fill="#1E0805"/><circle cx="405.95" cy="397.50" r="0.85" fill="#1E0805"/>
<circle cx="426.94" cy="399.10" r="9.299999999999999" fill="#FF4E2E"/>
<circle cx="424.69" cy="397.50" r="0.85" fill="#1E0805"/><circle cx="427.58" cy="397.50" r="0.85" fill="#1E0805"/>
<circle cx="448.56" cy="399.10" r="9.299999999999999" fill="#FF4E2E"/>
<circle cx="446.31" cy="397.50" r="0.85" fill="#1E0805"/><circle cx="449.21" cy="397.50" r="0.85" fill="#1E0805"/>
<circle cx="470.20" cy="399.10" r="10.299999999999999" fill="#FA3026"/>
<circle cx="467.95" cy="397.50" r="0.85" fill="#1E0805"/><circle cx="470.85" cy="397.50" r="0.85" fill="#1E0805"/>
<circle cx="340.42" cy="420.73" r="9.45" fill="#FF4A2C"/>
<circle cx="338.17" cy="419.12" r="0.85" fill="#1E0805"/><circle cx="341.06" cy="419.12" r="0.85" fill="#1E0805"/>
<circle cx="362.05" cy="420.73" r="9.45" fill="#FF4A2C"/>
<circle cx="359.80" cy="419.12" r="0.85" fill="#1E0805"/><circle cx="362.69" cy="419.12" r="0.85" fill="#1E0805"/>
<circle cx="383.68" cy="420.73" r="9.45" fill="#FF4A2C"/>
<circle cx="381.43" cy="419.12" r="0.85" fill="#1E0805"/><circle cx="384.32" cy="419.12" r="0.85" fill="#1E0805"/>
<circle cx="405.31" cy="420.73" r="9.299999999999999" fill="#FF4E2E"/>
<circle cx="403.06" cy="419.12" r="0.85" fill="#1E0805"/><circle cx="405.95" cy="419.12" r="0.85" fill="#1E0805"/>
<circle cx="426.94" cy="420.73" r="9.299999999999999" fill="#FF4E2E"/>
<circle cx="424.69" cy="419.12" r="0.85" fill="#1E0805"/><circle cx="427.58" cy="419.12" r="0.85" fill="#1E0805"/>
<circle cx="448.56" cy="420.73" r="9.299999999999999" fill="#FF4E2E"/>
<circle cx="446.31" cy="419.12" r="0.85" fill="#1E0805"/><circle cx="449.21" cy="419.12" r="0.85" fill="#1E0805"/>
<circle cx="470.20" cy="420.73" r="10.299999999999999" fill="#FA3026"/>
<circle cx="467.95" cy="419.12" r="0.85" fill="#1E0805"/><circle cx="470.85" cy="419.12" r="0.85" fill="#1E0805"/>
<circle cx="491.83" cy="420.73" r="10.299999999999999" fill="#FA3026"/>
<circle cx="489.58" cy="419.12" r="0.85" fill="#1E0805"/><circle cx="492.48" cy="419.12" r="0.85" fill="#1E0805"/>
<circle cx="340.42" cy="442.36" r="9.45" fill="#FF4A2C"/>
<circle cx="338.17" cy="440.75" r="0.85" fill="#1E0805"/><circle cx="341.06" cy="440.75" r="0.85" fill="#1E0805"/>
<circle cx="362.05" cy="442.36" r="9.45" fill="#FF4A2C"/>
<circle cx="359.80" cy="440.75" r="0.85" fill="#1E0805"/><circle cx="362.69" cy="440.75" r="0.85" fill="#1E0805"/>
<circle cx="383.68" cy="442.36" r="9.45" fill="#FF4A2C"/>
<circle cx="381.43" cy="440.75" r="0.85" fill="#1E0805"/><circle cx="384.32" cy="440.75" r="0.85" fill="#1E0805"/>
<circle cx="405.31" cy="442.36" r="9.299999999999999" fill="#FF4E2E"/>
<circle cx="403.06" cy="440.75" r="0.85" fill="#1E0805"/><circle cx="405.95" cy="440.75" r="0.85" fill="#1E0805"/>
<circle cx="426.94" cy="442.36" r="9.299999999999999" fill="#FF4E2E"/>
<circle cx="424.69" cy="440.75" r="0.85" fill="#1E0805"/><circle cx="427.58" cy="440.75" r="0.85" fill="#1E0805"/>
<circle cx="448.56" cy="442.36" r="9.299999999999999" fill="#FF4E2E"/>
<circle cx="446.31" cy="440.75" r="0.85" fill="#1E0805"/><circle cx="449.21" cy="440.75" r="0.85" fill="#1E0805"/>
<circle cx="470.20" cy="442.36" r="10.299999999999999" fill="#FA3026"/>
<circle cx="467.95" cy="440.75" r="0.85" fill="#1E0805"/><circle cx="470.85" cy="440.75" r="0.85" fill="#1E0805"/>
<circle cx="491.83" cy="442.36" r="10.299999999999999" fill="#FA3026"/>
<circle cx="489.58" cy="440.75" r="0.85" fill="#1E0805"/><circle cx="492.48" cy="440.75" r="0.85" fill="#1E0805"/>
<circle cx="513.46" cy="442.36" r="10.299999999999999" fill="#FA3026"/>
<circle cx="511.21" cy="440.75" r="0.85" fill="#1E0805"/><circle cx="514.11" cy="440.75" r="0.85" fill="#1E0805"/>
<text x="327.00" y="271.12" font-size="5.15" text-anchor="end" fill="#1A1A1A" stroke="#1A1A1A" stroke-width="0.05">Red-1</text>
<text x="0" y="0" font-size="5.25" text-anchor="start" fill="#1A1A1A" stroke="#1A1A1A" stroke-width="0.05" transform="translate(342.31,256.20) rotate(-90)">Red-1</text>
<text x="327.00" y="292.75" font-size="5.15" text-anchor="end" fill="#1A1A1A" stroke="#1A1A1A" stroke-width="0.05">Red-2</text>
<text x="0" y="0" font-size="5.25" text-anchor="start" fill="#1A1A1A" stroke="#1A1A1A" stroke-width="0.05" transform="translate(363.94,277.83) rotate(-90)">Red-2</text>
<text x="327.00" y="314.38" font-size="5.15" text-anchor="end" fill="#1A1A1A" stroke="#1A1A1A" stroke-width="0.05">Red-3</text>
<text x="0" y="0" font-size="5.25" text-anchor="start" fill="#1A1A1A" stroke="#1A1A1A" stroke-width="0.05" transform="translate(385.57,299.46) rotate(-90)">Red-3</text>
<text x="327.00" y="336.00" font-size="5.15" text-anchor="end" fill="#1A1A1A" stroke="#1A1A1A" stroke-width="0.05">Purple-1</text>
<text x="0" y="0" font-size="5.25" text-anchor="start" fill="#1A1A1A" stroke="#1A1A1A" stroke-width="0.05" transform="translate(407.20,321.09) rotate(-90)">Purple-1</text>
<text x="327.00" y="357.63" font-size="5.15" text-anchor="end" fill="#1A1A1A" stroke="#1A1A1A" stroke-width="0.05">Purple-2</text>
<text x="0" y="0" font-size="5.25" text-anchor="start" fill="#1A1A1A" stroke="#1A1A1A" stroke-width="0.05" transform="translate(428.83,342.72) rotate(-90)">Purple-2</text>
<text x="327.00" y="379.26" font-size="5.15" text-anchor="end" fill="#1A1A1A" stroke="#1A1A1A" stroke-width="0.05">Purple-3</text>
<text x="0" y="0" font-size="5.25" text-anchor="start" fill="#1A1A1A" stroke="#1A1A1A" stroke-width="0.05" transform="translate(450.46,364.35) rotate(-90)">Purple-3</text>
<text x="327.00" y="400.90" font-size="5.15" text-anchor="end" fill="#1A1A1A" stroke="#1A1A1A" stroke-width="0.05">Yellow-1</text>
<text x="0" y="0" font-size="5.25" text-anchor="start" fill="#1A1A1A" stroke="#1A1A1A" stroke-width="0.05" transform="translate(472.10,385.98) rotate(-90)">Yellow-1</text>
<text x="327.00" y="422.53" font-size="5.15" text-anchor="end" fill="#1A1A1A" stroke="#1A1A1A" stroke-width="0.05">Yellow-2</text>
<text x="0" y="0" font-size="5.25" text-anchor="start" fill="#1A1A1A" stroke="#1A1A1A" stroke-width="0.05" transform="translate(493.73,407.61) rotate(-90)">Yellow-2</text>
<text x="327.00" y="444.16" font-size="5.15" text-anchor="end" fill="#1A1A1A" stroke="#1A1A1A" stroke-width="0.05">Yellow-3</text>
<text x="0" y="0" font-size="5.25" text-anchor="start" fill="#1A1A1A" stroke="#1A1A1A" stroke-width="0.05" transform="translate(515.36,429.24) rotate(-90)">Yellow-3</text>
<rect x="104.9" y="460.6" width="79.90" height="16.40" fill="url(#cbC)"/>
<text x="105.30" y="483.10" font-size="5.0" text-anchor="middle" fill="#444444" stroke="#444444" stroke-width="0.14" >-1.0</text>
<text x="125.28" y="483.10" font-size="5.0" text-anchor="middle" fill="#444444" stroke="#444444" stroke-width="0.14" >-0.5</text>
<text x="145.25" y="483.10" font-size="5.0" text-anchor="middle" fill="#444444" stroke="#444444" stroke-width="0.14" >0.0</text>
<text x="165.23" y="483.10" font-size="5.0" text-anchor="middle" fill="#444444" stroke="#444444" stroke-width="0.14" >0.5</text>
<text x="185.20" y="483.10" font-size="5.0" text-anchor="middle" fill="#444444" stroke="#444444" stroke-width="0.14" >1.0</text>
<rect x="388.2" y="460.2" width="80.00" height="16.40" fill="url(#cbD)"/>
<text x="388.60" y="483.10" font-size="5.0" text-anchor="middle" fill="#444444" stroke="#444444" stroke-width="0.14" >-1.0</text>
<text x="408.60" y="483.10" font-size="5.0" text-anchor="middle" fill="#444444" stroke="#444444" stroke-width="0.14" >-0.5</text>
<text x="428.60" y="483.10" font-size="5.0" text-anchor="middle" fill="#444444" stroke="#444444" stroke-width="0.14" >0.0</text>
<text x="448.60" y="483.10" font-size="5.0" text-anchor="middle" fill="#444444" stroke="#444444" stroke-width="0.14" >0.5</text>
<text x="468.60" y="483.10" font-size="5.0" text-anchor="middle" fill="#444444" stroke="#444444" stroke-width="0.14" >1.0</text>
</svg></body></html>
